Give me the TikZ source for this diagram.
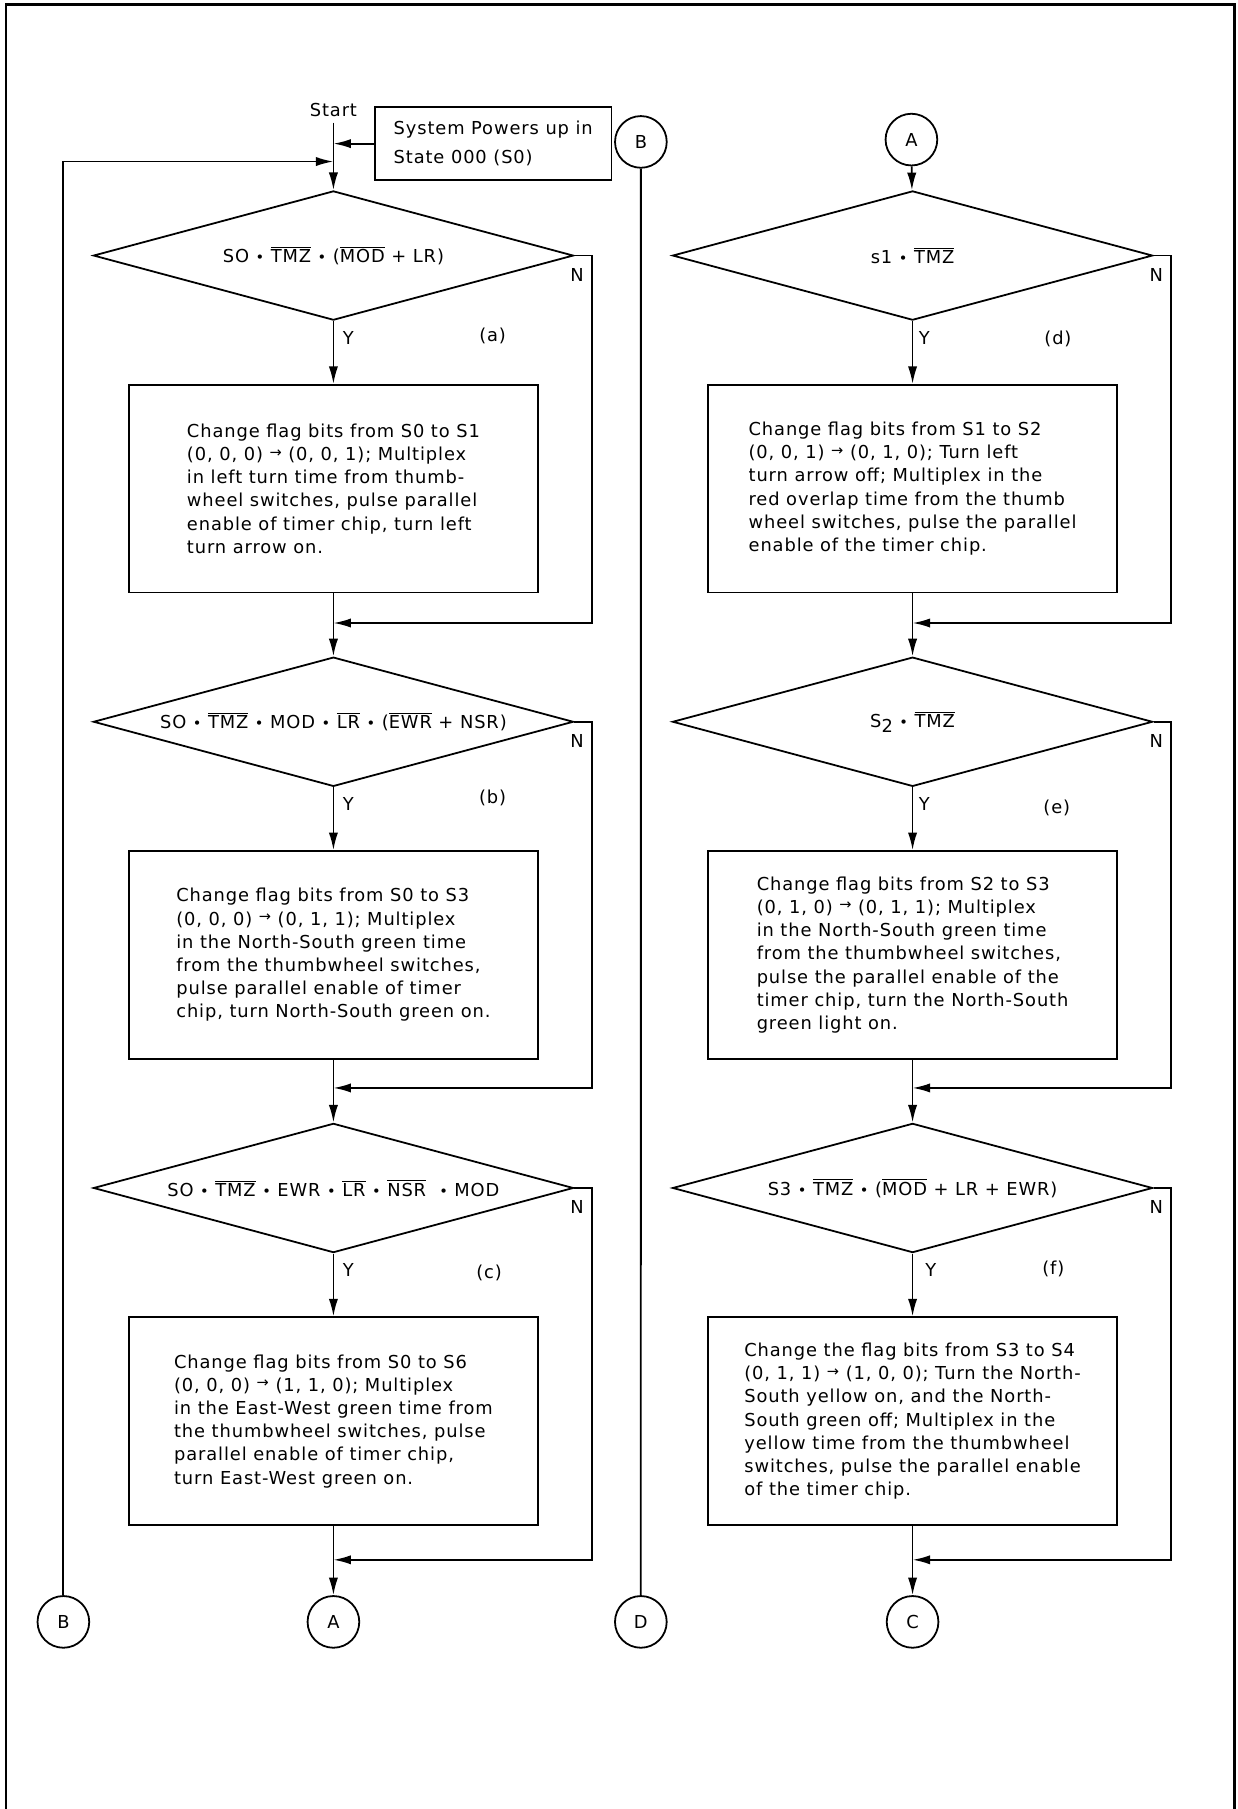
\documentclass[tikz,border=0pt]{standalone}
\usepackage{fontspec}
\setmainfont{DejaVu Sans}[LetterSpace=5]
\usetikzlibrary{shapes.geometric,arrows.meta,positioning}

\newcommand\ovl[1]{$\overline{\mbox{#1}}$}
\newcommand\bdot{{\small •}}
\newcommand\flagto{\raisebox{.35ex}{\small →}}

\begin{document}
\begin{tikzpicture}[
    x=0.025cm, y=-0.025cm,
    node distance=5.05cm,
    line width=1.1pt,
    every node/.style={font=\fontsize{11}{14.3}\selectfont},
    arrow/.style={-{Latex[length=3.8mm,width=2mm]}},
    decision/.style={draw, diamond, aspect=3.7, inner sep=0pt, minimum width=10.4cm, minimum height=2.8cm},
    process/.style={draw, rectangle, align=left, minimum width=8.85cm, minimum height=4.5cm},
    connector/.style={draw, circle, inner sep=0pt, minimum size=1.12cm}
]
\useasboundingbox (0,0) rectangle (1073,1568);
% frame
\draw[line width=1.4pt] (5,1568) |- (1070,4) -- (1070,1568);

% left column
\node (start) at (289,95) {Start};
\node[draw, align=left, minimum width=5.125cm, minimum height=1.575cm] (power) at (427.5,124.5) {System Powers up in\\[3.5pt]State 000 (S0)};
\node[connector] (Bt) at (555.5,123) {B};
\node[decision] (da) at (289,221.5) {SO \bdot{} \ovl{TMZ} \bdot{} (\ovl{MOD} + LR)};
\node[process, below of=da] (pa) {Change flag bits from S0 to S1\\(0, 0, 0) \flagto{} (0, 0, 1); Multiplex\\in left turn time from thumb-\\wheel switches, pulse parallel\\enable of timer chip, turn left\\turn arrow on.};
\node[decision, below of=pa] (db) {SO \bdot{} \ovl{TMZ} \bdot{} MOD \bdot{} \ovl{LR} \bdot{} (\ovl{EWR} + NSR)};
\node[process, below of=db] (pb) {Change flag bits from S0 to S3\\(0, 0, 0) \flagto{} (0, 1, 1); Multiplex\\in the North-South green time\\from the thumbwheel switches,\\pulse parallel enable of timer\\chip, turn North-South green on.};
\node[decision, below of=pb] (dc) {SO \bdot{} \ovl{TMZ} \bdot{} EWR \bdot{} \ovl{LR} \bdot{} \ovl{NSR} \ \bdot{} MOD};
\node[process, below of=dc] (pc) {Change flag bits from S0 to S6\\(0, 0, 0) \flagto{} (1, 1, 0); Multiplex\\in the East-West green time from\\the thumbwheel switches, pulse\\parallel enable of timer chip,\\turn East-West green on.};
\node[connector, below of=pc, node distance=4.35cm] (Ab) {A};
\node[connector, left of=Ab, node distance=5.85cm] (Bl) {B};
\node[connector, right of=Ab, node distance=6.66cm] (D) {D};

\node (taga) at (427,291) {(a)};
\node (tagb) at (427,692) {(b)};
\node (tagc) at (424,1103) {(c)};

% right column
\node[connector] (At) at (790,121) {A};
\node[decision] (dd) at (791,221.5) {s1 \bdot{} \ovl{TMZ}};
\node[process, below of=dd] (pd) {Change flag bits from S1 to S2\\(0, 0, 1) \flagto{} (0, 1, 0); Turn left\\turn arrow off; Multiplex in the\\red overlap time from the thumb\\wheel switches, pulse the parallel\\enable of the timer chip.};
\node[decision, below of=pd] (de) {S\raisebox{-.5ex}{2} \bdot{} \ovl{TMZ}};
\node[process, below of=de] (pe) {Change flag bits from S2 to S3\\(0, 1, 0) \flagto{} (0, 1, 1); Multiplex\\in the North-South green time\\from the thumbwheel switches,\\pulse the parallel enable of the\\timer chip, turn the North-South\\green light on.};
\node[decision, below of=pe] (df) {S3 \bdot{} \ovl{TMZ} \bdot{} (\ovl{MOD} + LR + EWR)};
\node[process, below of=df] (pf) {Change the flag bits from S3 to S4\\(0, 1, 1) \flagto{} (1, 0, 0); Turn the North-\\South yellow on, and the North-\\South green off; Multiplex in the\\yellow time from the thumbwheel\\switches, pulse the parallel enable\\of the timer chip.};
\node[connector, below of=pf, node distance=4.35cm] (C) {C};

\node (tagd) at (917,294) {(d)};
\node (tage) at (916,700) {(e)};
\node (tagf) at (913,1100) {(f)};

% merge points
\coordinate (loop) at (289,140);
\coordinate (ma) at (289,540);
\coordinate (mb) at (289,943);
\coordinate (mc) at (289,1352);
\coordinate (md) at (791,540);
\coordinate (me) at (791,943);
\coordinate (mf) at (791,1352);

% connectors
\draw[arrow] (start) -- (da);
\draw[arrow] (power) -- (power -| start);
\draw[arrow] (Bl) |- (loop);
\draw (Bt) -- (D);
\draw[arrow] (At) -- (dd);

\draw[arrow] (da) -- node[pos=.27, right, xshift=2pt] (ya) {Y} (pa);
\draw[arrow] (db) -- node[pos=.27, right, xshift=2pt] (yb) {Y} (pb);
\draw[arrow] (dc) -- node[pos=.27, right, xshift=2pt] (yc) {Y} (pc);
\draw[arrow] (dd) -- node[pos=.27, right] (yd) {Y} (pd);
\draw[arrow] (de) -- node[pos=.27, right] (ye) {Y} (pe);
\draw[arrow] (df) -- node[pos=.27, right, xshift=4pt] (yf) {Y} (pf);

\draw[arrow] (pa) -- (db);
\draw[arrow] (pb) -- (dc);
\draw[arrow] (pc) -- (Ab);
\draw[arrow] (pd) -- (de);
\draw[arrow] (pe) -- (df);
\draw[arrow] (pf) -- (C);

\draw[arrow] (da.east) -- ++(15,0) node[below left=4pt and 1pt] (na) {N} |- (ma);
\draw[arrow] (db.east) -- ++(15,0) node[below left=4pt and 1pt] (nb) {N} |- (mb);
\draw[arrow] (dc.east) -- ++(15,0) node[below left=4pt and 1pt] (nc) {N} |- (mc);
\draw[arrow] (dd.east) -- ++(15,0) node[below left=4pt and 1pt] (nd) {N} |- (md);
\draw[arrow] (de.east) -- ++(15,0) node[below left=4pt and 1pt] (ne) {N} |- (me);
\draw[arrow] (df.east) -- ++(15,0) node[below left=4pt and 1pt] (nf) {N} |- (mf);
\end{tikzpicture}
\end{document}
